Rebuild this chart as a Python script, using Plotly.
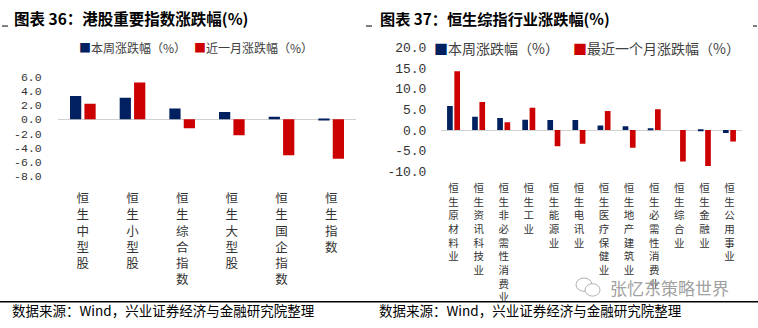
import plotly.graph_objects as go

W, H = 758, 328

# ---------------- data ----------------
left_categories = ["恒生中型股", "恒生小型股", "恒生综合指数", "恒生大型股", "恒生国企指数", "恒生指数"]
left_week = [3.26, 3.03, 1.52, 1.02, 0.35, -0.15]
left_month = [2.19, 5.18, -1.26, -2.24, -5.06, -5.56]
left_yticks = [6, 4, 2, 0, -2, -4, -6, -8]

right_categories = ["恒生原材料业", "恒生资讯科技业", "恒生非必需性消费业", "恒生工业", "恒生能源业",
                    "恒生电讯业", "恒生医疗保健业", "恒生地产建筑业", "恒生必需性消费业", "恒生综合业",
                    "恒生金融业", "恒生公用事业"]
right_week = [5.8, 3.2, 2.9, 2.5, 2.4, 2.4, 1.1, 0.9, 0.4, 0.0, -0.2, -0.7]
right_month = [14.2, 6.8, 1.9, 5.4, -3.9, -3.3, 4.6, -4.3, 5.0, -7.6, -8.7, -2.8]
right_yticks = [20, 15, 10, 5, 0, -5, -10]

left_legend = ["本周涨跌幅（%）", "近一月涨跌幅（%）"]
right_legend = ["本周涨跌幅（%）", "最近一个月涨跌幅（%）"]

BLUE = "#002060"
RED = "#CC0000"
CJK = "Noto Sans CJK SC"


def vert(s):
    return "<br>".join(list(s))


def px_x(x):
    return x / W


def px_y(y):
    return 1 - y / H


fig = go.Figure()
fig.add_trace(go.Bar(x=left_categories, y=left_week, marker_color=BLUE, xaxis="x", yaxis="y",
                     showlegend=False, name=left_legend[0]))
fig.add_trace(go.Bar(x=left_categories, y=left_month, marker_color=RED, xaxis="x", yaxis="y",
                     showlegend=False, name=left_legend[1]))
fig.add_trace(go.Bar(x=right_categories, y=right_week, marker_color=BLUE, xaxis="x2", yaxis="y2",
                     showlegend=False, name=right_legend[0]))
fig.add_trace(go.Bar(x=right_categories, y=right_month, marker_color=RED, xaxis="x2", yaxis="y2",
                     showlegend=False, name=right_legend[1]))

fig.update_traces(marker_line_width=0)

common_x = dict(showline=False, showgrid=False, zeroline=False, ticks="outside",
                tickcolor="rgba(0,0,0,0)", tickangle=0, type="category")
common_y = dict(showline=False, showgrid=False, zeroline=True, zerolinecolor="#d0d0d0",
                zerolinewidth=1, ticks="outside", tickcolor="rgba(0,0,0,0)")

fig.update_layout(
    width=W, height=H, margin=dict(l=0, r=0, t=0, b=0),
    paper_bgcolor="white", plot_bgcolor="white",
    barmode="group", bargap=0.42, bargroupgap=0.22,
    xaxis=dict(common_x, domain=[px_x(58), px_x(356)], anchor="y",
               tickvals=left_categories, ticktext=[vert(c) for c in left_categories],
               ticklen=11, tickfont=dict(family=CJK, size=12.5, color="#333333")),
    yaxis=dict(common_y, domain=[px_y(178.3), px_y(74)], anchor="x", range=[-8, 6],
               tickvals=left_yticks, ticktext=[f"{v:.1f}" for v in left_yticks],
               ticklen=13, tickfont=dict(family="Liberation Mono", size=11.5, color="#333333")),
    xaxis2=dict(common_x, domain=[px_x(441), px_x(742)], anchor="y2",
                tickvals=right_categories, ticktext=[vert(c) for c in right_categories],
                ticklen=7, tickfont=dict(family=CJK, size=10.5, color="#333333")),
    yaxis2=dict(common_y, domain=[px_y(173.3), px_y(43.3)], anchor="x2", range=[-10, 20],
                tickvals=right_yticks, ticktext=[f"{v:.1f}" for v in right_yticks],
                ticklen=11, tickfont=dict(family="Liberation Mono", size=13, color="#333333")),
)

ann = []
# titles
ann.append(dict(x=px_x(12), y=px_y(13), xref="paper", yref="paper", xanchor="left", yanchor="middle",
                text="<b>图表 36：港股重要指数涨跌幅(%)</b>", showarrow=False,
                font=dict(family=CJK, size=15.5, color="#000000")))
ann.append(dict(x=px_x(378), y=px_y(13), xref="paper", yref="paper", xanchor="left", yanchor="middle",
                text="<b>图表 37：恒生综指行业涨跌幅(%)</b>", showarrow=False,
                font=dict(family=CJK, size=15.2, color="#000000")))


def legend_item(x, y, color, label, size):
    return dict(x=px_x(x), y=px_y(y), xref="paper", yref="paper", xanchor="left", yanchor="middle",
                text=f"<span style='color:{color}'>■</span>{label}", showarrow=False,
                font=dict(family=CJK, size=size, color="#404040"))


ann.append(legend_item(77, 43, BLUE, left_legend[0], 12))
ann.append(legend_item(192, 43, RED, left_legend[1], 12))
ann.append(legend_item(432, 44, BLUE, right_legend[0], 14))
ann.append(legend_item(571, 44, RED, right_legend[1], 14))
# footers
for fx in (10, 377):
    ann.append(dict(x=px_x(fx), y=px_y(319), xref="paper", yref="paper", xanchor="left", yanchor="middle",
                    text="数据来源：Wind，兴业证券经济与金融研究院整理", showarrow=False,
                    font=dict(family=CJK, size=13.5, color="#000000")))
# watermark
ann.append(dict(x=px_x(608), y=px_y(295), xref="paper", yref="paper", xanchor="left", yanchor="middle",
                text="张忆东策略世界", showarrow=False,
                font=dict(family=CJK, size=17, color="#a0a0a0")))
fig.update_layout(annotations=ann)

shapes = [
    dict(type="line", xref="paper", yref="paper", x0=0, x1=1, y0=px_y(310), y1=px_y(310),
         line=dict(color="black", width=1.5)),
    dict(type="line", xref="paper", yref="paper", x0=px_x(2), x1=px_x(8), y0=px_y(21), y1=px_y(21),
         line=dict(color="black", width=1)),
    dict(type="line", xref="paper", yref="paper", x0=px_x(366), x1=px_x(372), y0=px_y(21), y1=px_y(21),
         line=dict(color="black", width=1)),
    dict(type="line", xref="paper", yref="paper", x0=px_x(753), x1=px_x(757), y0=px_y(21), y1=px_y(21),
         line=dict(color="black", width=1)),
    # wechat-like icon
    dict(type="circle", xref="paper", yref="paper", x0=px_x(576), x1=px_x(592), y0=px_y(299), y1=px_y(285),
         line=dict(color="#b0b0b0", width=1)),
    dict(type="circle", xref="paper", yref="paper", x0=px_x(585), x1=px_x(600), y0=px_y(304), y1=px_y(291),
         line=dict(color="#b0b0b0", width=1), fillcolor="white"),
]
fig.update_layout(shapes=shapes)

fig.write_html("out.html")
